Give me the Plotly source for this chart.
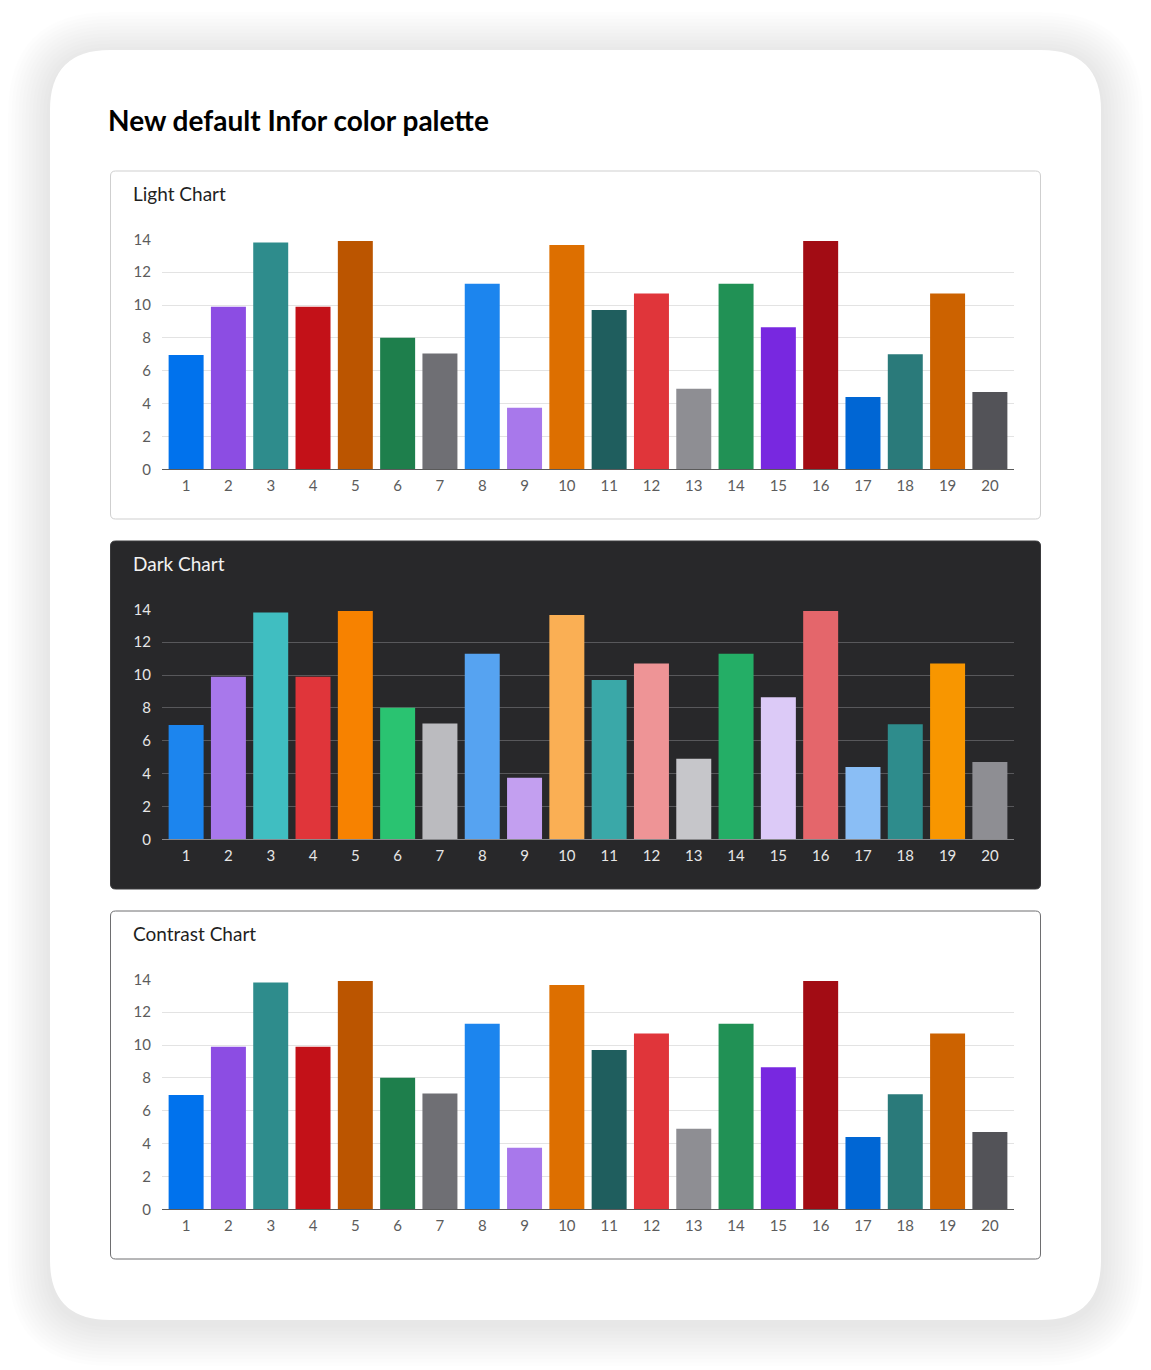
import plotly.graph_objects as go

# -----------------------------
# Données
# -----------------------------
categories = [str(i) for i in range(1, 21)]
values = [6.95, 9.9, 13.8, 9.9, 13.9, 8.0, 7.05, 11.3, 3.75, 13.65,
          9.7, 10.7, 4.9, 11.3, 8.65, 13.9, 4.4, 7.0, 10.7, 4.7]

light_colors = ['#0072ED', '#8C4DE3', '#2E8C8C', '#C31118', '#BB5500',
                '#1E7F4C', '#6F6F74', '#1C85EE', '#A878EB', '#DD6F00',
                '#1F5E5E', '#E0353A', '#8E8E93', '#219155', '#7828E0',
                '#A20C14', '#0066D4', '#2A7A7A', '#CC6200', '#535358']
dark_colors = ['#1C85EE', '#A878EB', '#40BEC1', '#E0353A', '#F78200',
               '#2AC371', '#BBBBBF', '#56A3F1', '#C39FF0', '#FAAF54',
               '#3AA8A8', '#EE9496', '#C6C6CA', '#24AE66', '#DCCAF7',
               '#E4666B', '#8ABEF5', '#2E8C8C', '#F89600', '#8E8E93']
contrast_colors = light_colors

panel_titles = ['Light Chart', 'Dark Chart', 'Contrast Chart']
y_ticks = [0, 2, 4, 6, 8, 10, 12, 14]

W, H = 1151, 1370
OFF = 8  # marge du body de la page
FONT = 'Source Sans Pro, Lato, Noto Sans, sans-serif'


def px_x(p):
    return (p - OFF) / W


def px_y(p):
    return 1 - (p - OFF) / H


def rounded_rect(x0, y0, x1, y1, r):
    # chemin SVG en pixels -> coordonnées papier
    X, Y = px_x, px_y
    return (f"M {X(x0 + r)} {Y(y0)} L {X(x1 - r)} {Y(y0)} "
            f"Q {X(x1)} {Y(y0)} {X(x1)} {Y(y0 + r)} "
            f"L {X(x1)} {Y(y1 - r)} Q {X(x1)} {Y(y1)} {X(x1 - r)} {Y(y1)} "
            f"L {X(x0 + r)} {Y(y1)} Q {X(x0)} {Y(y1)} {X(x0)} {Y(y1 - r)} "
            f"L {X(x0)} {Y(y0 + r)} Q {X(x0)} {Y(y0)} {X(x0 + r)} {Y(y0)} Z")


fig = go.Figure()
shapes = []
annotations = []

# ombre de la carte
for k in range(12, 0, -1):
    d = k * 3.5
    shapes.append(dict(type='path', xref='paper', yref='paper', layer='below',
                       path=rounded_rect(50 - d, 50 - d + 4, 1101 + d, 1320 + d + 4, 60 + d),
                       fillcolor='rgba(0,0,0,0.008)', line=dict(width=0)))
shapes.append(dict(type='path', xref='paper', yref='paper', layer='below',
                   path=rounded_rect(50, 50, 1101, 1320, 60),
                   fillcolor='white', line=dict(width=0)))

annotations.append(dict(text='<b>New default Infor color palette</b>', x=px_x(106), y=px_y(120),
                        xref='paper', yref='paper', xanchor='left', yanchor='middle',
                        showarrow=False, font=dict(family=FONT, size=28, color='#000000')))

panels = [
    dict(top=171, fill='white', border='#CFCFCF', colors=light_colors, grid='#E3E3E3',
         axis='#5A5A5A', tick='#5C5C5C', title='#1F1F1F'),
    dict(top=541, fill='#28282A', border='#3A3A3C', colors=dark_colors, grid='#58585B',
         axis='#8A8A8D', tick='#E6E6E6', title='#F2F2F2'),
    dict(top=911, fill='white', border='#6E6E70', colors=contrast_colors, grid='#E3E3E3',
         axis='#5A5A5A', tick='#5C5C5C', title='#1F1F1F'),
]

for i, p in enumerate(panels):
    top = p['top']
    shapes.append(dict(type='path', xref='paper', yref='paper', layer='below',
                       path=rounded_rect(110.5, top, 1040.5, top + 348, 5),
                       fillcolor=p['fill'], line=dict(color=p['border'], width=1)))
    annotations.append(dict(text=panel_titles[i], x=px_x(131), y=px_y(top + 22),
                            xref='paper', yref='paper', xanchor='left', yanchor='middle',
                            showarrow=False, font=dict(family=FONT, size=19, color=p['title'])))

    n = '' if i == 0 else str(i + 1)
    fig.add_trace(go.Bar(x=categories, y=values, marker=dict(color=p['colors'], line=dict(width=0)),
                         xaxis='x' + n, yaxis='y' + n, showlegend=False, hoverinfo='x+y'))

    y0 = top + 298.3
    y14 = top + 68.3
    fig.layout['xaxis' + n] = dict(domain=[px_x(162), px_x(1014)], anchor='y' + n,
                                   range=[-0.57, 19.57],
                                   showline=True, linecolor=p['axis'], linewidth=1,
                                   showgrid=False, ticks='', ticklabelstandoff=3,
                                   tickfont=dict(family=FONT, size=15, color=p['tick']),
                                   automargin=False, fixedrange=True)
    fig.layout['yaxis' + n] = dict(domain=[px_y(y0), px_y(y14)], anchor='x' + n,
                                   range=[0, 14], tickvals=y_ticks, showgrid=True,
                                   gridcolor=p['grid'], gridwidth=1, zeroline=False,
                                   ticks='', ticklabelstandoff=10,
                                   tickfont=dict(family=FONT, size=15, color=p['tick']),
                                   automargin=False, fixedrange=True)

fig.update_layout(
    width=W, height=H,
    margin=dict(l=0, r=0, t=0, b=0, pad=0),
    paper_bgcolor='white',
    plot_bgcolor='rgba(0,0,0,0)',
    bargap=0.173,
    shapes=shapes,
    annotations=annotations,
    font=dict(family=FONT),
)

fig.write_html("out.html")
